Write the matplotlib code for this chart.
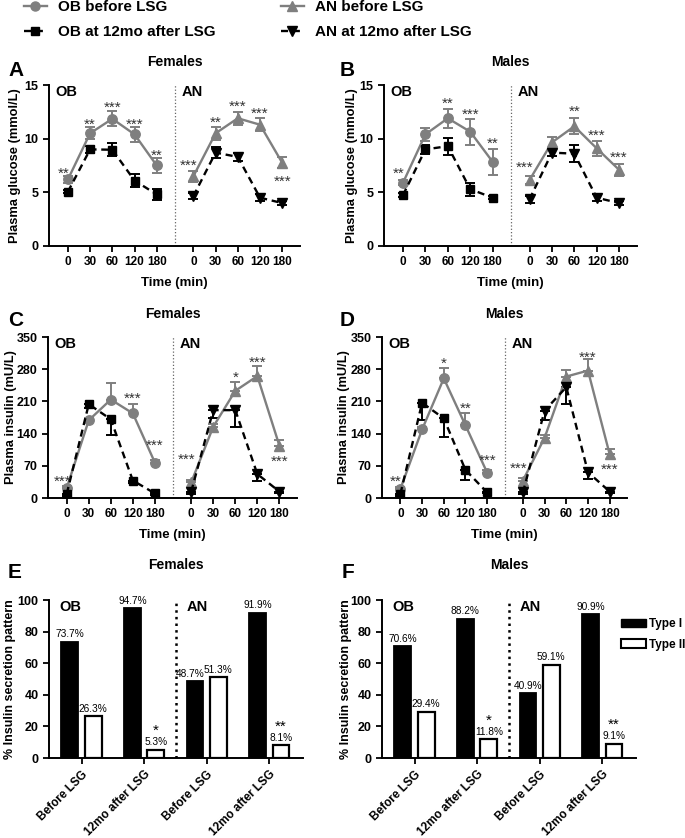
import numpy as np
import matplotlib.pyplot as plt
from matplotlib.lines import Line2D
from matplotlib.patches import Patch

plt.rcParams['font.family'] = ['Liberation Sans', 'DejaVu Sans']
plt.rcParams['font.weight'] = 'bold'
plt.rcParams['axes.labelweight'] = 'bold'
plt.rcParams['axes.titleweight'] = 'bold'

times = ['0', '30', '60', '120', '180']

# glucose, females (mean, sem)
gf_ob_pre = [6.2, 10.5, 11.85, 10.4, 7.5]
gf_ob_pre_e = [0.3, 0.55, 0.7, 0.7, 0.67]
gf_ob_post = [5.05, 9.0, 8.97, 6.1, 4.8]
gf_ob_post_e = [0.15, 0.3, 0.6, 0.6, 0.55]
gf_an_pre = [6.5, 10.5, 11.9, 11.3, 7.75]
gf_an_pre_e = [0.5, 0.6, 0.6, 0.6, 0.5]
gf_an_post = [4.65, 8.7, 8.3, 4.5, 4.0]
gf_an_post_e = [0.25, 0.5, 0.35, 0.3, 0.2]

# glucose, males
gm_ob_pre = [5.9, 10.4, 11.9, 10.65, 7.85]
gm_ob_pre_e = [0.25, 0.6, 0.9, 1.2, 1.2]
gm_ob_post = [4.75, 9.0, 9.3, 5.3, 4.5]
gm_ob_post_e = [0.15, 0.4, 0.8, 0.6, 0.15]
gm_an_pre = [6.15, 9.65, 11.15, 9.1, 7.1]
gm_an_pre_e = [0.4, 0.5, 0.75, 0.7, 0.55]
gm_an_post = [4.35, 8.7, 8.6, 4.5, 4.0]
gm_an_post_e = [0.3, 0.3, 0.8, 0.3, 0.15]

# insulin, females
if_ob_pre = [22, 169, 214, 184, 77]
if_ob_pre_e = [5, 6, 35, 20, 5]
if_ob_post = [9, 204, 171, 38, 10]
if_ob_post_e = [4, 8, 35, 5, 3]
if_an_pre = [34, 155, 233, 265, 114]
if_an_pre_e = [5, 6, 20, 21, 11]
if_an_post = [14, 191, 191, 52, 14]
if_an_post_e = [6, 18, 36, 14, 4]

# insulin, males
im_ob_pre = [20, 149, 260, 158, 55]
im_ob_pre_e = [4, 6, 22, 26, 6]
im_ob_post = [9, 207, 173, 61, 12]
im_ob_post_e = [4, 38, 40, 21, 2]
im_an_pre = [38, 131, 264, 277, 95]
im_an_pre_e = [5, 6, 15, 25, 12]
im_an_post = [12, 190, 241, 56, 14]
im_an_post_e = [4, 20, 37, 14, 4]

# significance marks and where they sit
sa_ob = ['**', '**', '***', '***', '**'];   sa_ob_y = [7.15, 11.7, 13.3, 11.7, 8.8]
sa_an = ['***', '**', '***', '***', '***']; sa_an_y = [7.9, 11.9, 13.4, 12.7, 6.4]
sb_ob = ['**', '', '**', '***', '**'];      sb_ob_y = [7.15, 0, 13.65, 12.65, 9.9]
sb_an = ['***', '', '**', '***', '***'];    sb_an_y = [7.7, 0, 12.9, 10.7, 8.6]
sc_ob = ['***', '', '', '***', '***'];      sc_ob_y = [45, 0, 0, 224, 122]
sc_an = ['***', '', '*', '***', '***'];     sc_an_y = [93, 0, 271, 304, 87]
sd_ob = ['**', '', '*', '**', '***'];       sd_ob_y = [45, 0, 300, 204, 90]
sd_an = ['***', '', '', '***', '***'];      sd_an_y = [72, 0, 0, 313, 71]

# insulin secretion pattern (%)
groups = ['Before LSG', '12mo after LSG', 'Before LSG', '12mo after LSG']
fem_type1 = [73.7, 94.7, 48.7, 91.9]
fem_type2 = [26.3, 5.3, 51.3, 8.1]
fem_stars = ['', '*', '', '**']
mal_type1 = [70.6, 88.2, 40.9, 90.9]
mal_type2 = [29.4, 11.8, 59.1, 9.1]
mal_stars = ['', '*', '', '**']

GRAY = '#7f7f7f'
DASH = (0, (3, 2))
W, H = 685, 838
fig = plt.figure(figsize=(W / 100, H / 100), dpi=100)


def box(l, t, r, b):
    return fig.add_axes([l / W, 1 - b / H, (r - l) / W, (b - t) / H])


def style(ax, ylab, lab_px, l_px, w_px, lab_size=9.3):
    for s in ['top', 'right']:
        ax.spines[s].set_visible(False)
    for s in ['left', 'bottom']:
        ax.spines[s].set_linewidth(1.4)
    ax.tick_params(direction='out', length=4, width=1.3, labelsize=8.5)
    ax.tick_params(axis='y', labelsize=9)
    ax.set_ylabel(ylab, fontsize=lab_size)
    ax.yaxis.set_label_coords((lab_px + 7 - l_px) / w_px, 0.5)


xo = np.arange(5)
xa = xo + 5.65
div = 4.82


def series(ax, x, y, e, color, ls, marker, ms, side):
    z = np.zeros(len(e))
    if side == 'up':
        err = [z, e]
    elif side == 'down':
        err = [e, z]
    else:
        err = e
    ax.errorbar(x, y, yerr=err, fmt='none', ecolor=color, elinewidth=1.4,
                capsize=3.5, capthick=1.4, zorder=2)
    ax.plot(x, y, color=color, ls=ls, lw=1.7, marker=marker, ms=ms,
            mfc=color, mec=color, zorder=3)


def line_panel(ax, ob, an, stars, ylim, yticks, ylab, lab_px, l_px, w_px, one_sided):
    up = 'up' if one_sided else 'both'
    dn = 'down' if one_sided else 'both'
    series(ax, xo, ob[0], ob[1], GRAY, '-', 'o', 6.8, up)
    series(ax, xo, ob[2], ob[3], 'black', DASH, 's', 6.3, dn)
    series(ax, xa, an[0], an[1], GRAY, '-', '^', 7.2, up)
    series(ax, xa, an[2], an[3], 'black', DASH, 'v', 6.8, dn)
    for xs, labs, ys in [(xo, stars[0], stars[1]), (xa, stars[2], stars[3])]:
        for i in range(5):
            if labs[i]:
                dx = -0.2 if i == 0 else 0
                ax.annotate(labs[i], (xs[i] + dx, ys[i]), xytext=(0, -3),
                            textcoords='offset points', ha='center', va='center',
                            fontsize=11, fontweight='normal', color='#333333')
    ax.axvline(div, color='#666666', ls=':', lw=0.9)
    tr = ax.get_xaxis_transform()
    ax.text(-0.55, 1.0, 'OB', transform=tr, va='top', fontsize=10.5)
    ax.text(div + 0.3, 1.0, 'AN', transform=tr, va='top', fontsize=10.5)
    ax.set_xlim(-0.85, 10.45)
    ax.set_ylim(*ylim)
    ax.set_yticks(yticks)
    ax.set_xticks(list(xo) + list(xa))
    ax.set_xticklabels(times + times)
    ax.set_xlabel('Time (min)', fontsize=9.5, labelpad=6)
    style(ax, ylab, lab_px, l_px, w_px)


def bar_panel(ax, t1, t2, stars, lab_px, l_px, w_px):
    xg = np.arange(4)
    ax.bar(xg - 0.187, t1, 0.267, color='black', edgecolor='black', lw=1.3)
    ax.bar(xg + 0.187, t2, 0.267, color='white', edgecolor='black', lw=1.6)
    for i in range(4):
        dx = -0.08 if abs(t1[i] - t2[i]) < 8 else 0
        ax.text(xg[i] - 0.187 + dx, t1[i] + 1.5, f'{t1[i]}%', ha='center', va='bottom',
                fontsize=7.3, fontweight='normal')
        ax.text(xg[i] + 0.187, t2[i] + 1.5, f'{t2[i]}%', ha='center', va='bottom',
                fontsize=7.3, fontweight='normal')
        if stars[i]:
            ax.text(xg[i] + 0.187, t2[i] + 7.5, stars[i], ha='center', va='bottom',
                    fontsize=11, fontweight='normal')
    ax.axvline(1.51, color='black', ls=':', lw=1.8)
    ax.text(-0.36, 100, 'OB', va='top', fontsize=10.5)
    ax.text(1.68, 100, 'AN', va='top', fontsize=10.5)
    ax.set_xlim(-0.52, 3.54)
    ax.set_ylim(0, 100)
    ax.set_yticks(range(0, 101, 20))
    ax.set_xticks(xg)
    ax.set_xticklabels(groups, rotation=45, ha='right', rotation_mode='anchor')
    style(ax, '% Insulin secretion pattern', lab_px, l_px, w_px, lab_size=9)
    ax.tick_params(axis='x', labelsize=8.5)


axA = box(49, 85, 300, 246)
line_panel(axA, [gf_ob_pre, gf_ob_pre_e, gf_ob_post, gf_ob_post_e],
           [gf_an_pre, gf_an_pre_e, gf_an_post, gf_an_post_e],
           [sa_ob, sa_ob_y, sa_an, sa_an_y], (0, 15), [0, 5, 10, 15],
           'Plasma glucose (mmol/L)', 14, 49, 251, False)
axA.set_title('Females', fontsize=10, pad=14)

axB = box(384, 85, 637, 246)
line_panel(axB, [gm_ob_pre, gm_ob_pre_e, gm_ob_post, gm_ob_post_e],
           [gm_an_pre, gm_an_pre_e, gm_an_post, gm_an_post_e],
           [sb_ob, sb_ob_y, sb_an, sb_an_y], (0, 15), [0, 5, 10, 15],
           'Plasma glucose (mmol/L)', 351, 384, 253, False)
axB.set_title('Males', fontsize=10, pad=14)

axC = box(48, 337, 297, 498)
line_panel(axC, [if_ob_pre, if_ob_pre_e, if_ob_post, if_ob_post_e],
           [if_an_pre, if_an_pre_e, if_an_post, if_an_post_e],
           [sc_ob, sc_ob_y, sc_an, sc_an_y], (0, 350), range(0, 351, 70),
           'Plasma insulin (mU/L)', 10, 48, 249, True)
axC.set_title('Females', fontsize=10, pad=14)

axD = box(382, 337, 627, 498)
line_panel(axD, [im_ob_pre, im_ob_pre_e, im_ob_post, im_ob_post_e],
           [im_an_pre, im_an_pre_e, im_an_post, im_an_post_e],
           [sd_ob, sd_ob_y, sd_an, sd_an_y], (0, 350), range(0, 351, 70),
           'Plasma insulin (mU/L)', 343, 382, 245, True)
axD.set_title('Males', fontsize=10, pad=14)

axE = box(49, 600, 303, 758)
bar_panel(axE, fem_type1, fem_type2, fem_stars, 9, 49, 254)
axE.set_title('Females', fontsize=10, pad=22)

axF = box(382, 600, 636, 758)
bar_panel(axF, mal_type1, mal_type2, mal_stars, 345, 382, 254)
axF.set_title('Males', fontsize=10, pad=22)

for letter, x, y in [('A', 8, 71), ('B', 340, 71), ('C', 8, 320), ('D', 340, 321),
                     ('E', 8, 572), ('F', 342, 572)]:
    fig.text(x / W, 1 - y / H, letter, fontsize=15, fontweight='bold', va='center')

handles = [Line2D([], [], color=GRAY, lw=1.7, marker='o', ms=6.5),
           Line2D([], [], color='black', ls=DASH, lw=1.7, marker='s', ms=6),
           Line2D([], [], color=GRAY, lw=1.7, marker='^', ms=7),
           Line2D([], [], color='black', ls=DASH, lw=1.7, marker='v', ms=6.5)]
fig.legend(handles, ['OB before LSG', 'OB at 12mo after LSG', 'AN before LSG', 'AN at 12mo after LSG'],
           ncol=2, loc='upper left', bbox_to_anchor=(24 / W, 1.0), frameon=False,
           fontsize=11, handlelength=1.5, handletextpad=0.7, columnspacing=4.3,
           labelspacing=0.75, borderpad=0, borderaxespad=0)

fig.legend([Patch(fc='black', ec='black'), Patch(fc='white', ec='black', lw=1.5)],
           ['Type I', 'Type II'], loc='upper left', bbox_to_anchor=(621 / W, 1 - 618 / H),
           frameon=False, fontsize=8.5, handlelength=2.1, handleheight=0.75,
           handletextpad=0.3, labelspacing=0.75, borderpad=0, borderaxespad=0)

fig.savefig('out.png', dpi=100)
